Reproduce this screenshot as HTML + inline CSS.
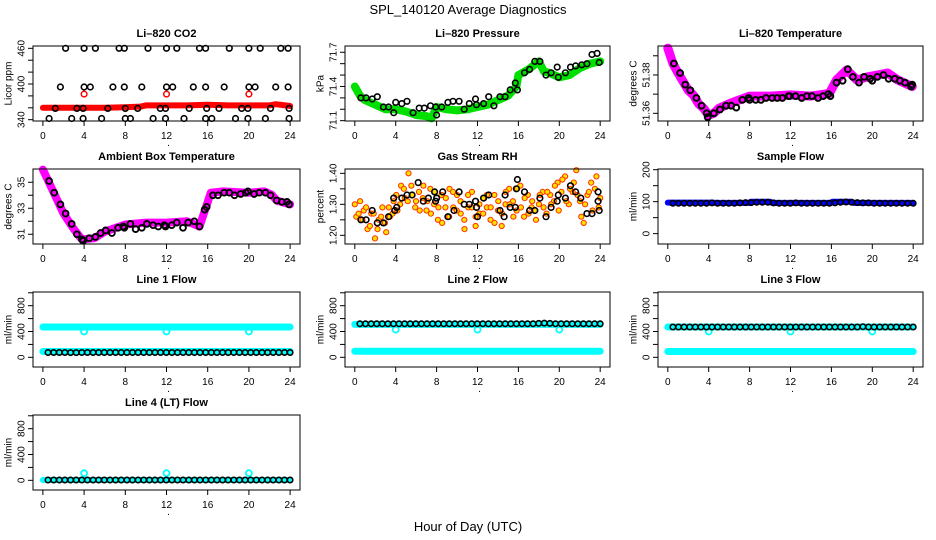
<!DOCTYPE html>
<html><head><meta charset="utf-8"><title>SPL_140120 Average Diagnostics</title>
<style>
html,body{margin:0;padding:0;background:#fff}
svg{display:block;font-family:"Liberation Sans",Arial,sans-serif}
.ttl{font-size:11px;font-weight:bold;text-anchor:middle}
.tk{font-size:10px;text-anchor:middle}
.yl{font-size:10px;text-anchor:middle}
</style></head><body>
<svg id="chart" width="936" height="540" viewBox="0 0 936 540" xmlns="http://www.w3.org/2000/svg">
<rect x="0" y="0" width="936" height="540" fill="#fff"/>
<text x="468" y="14" font-size="13" text-anchor="middle">SPL_140120  Average Diagnostics</text>
<text x="468" y="531" font-size="13" text-anchor="middle">Hour of Day (UTC)</text>
</svg>
<script>
// ---- data ----
const xTicks = [0,4,8,12,16,20,24];
// CO2
const co2BandT = [0,2,4,6,8,9.5,10,12,14,16,18,20,22,22.6,24];
const co2BandV = [360,360,360,360,361,362,364,364,364,365,364,364,364,366,363];
const co2T460 = [2.2,4,5.1,7.4,7.9,10.2,12,13,15.2,15.8,18.1,20,21.1,23.1,23.8];
const co2T395 = [1.7,4,4.6,6.8,7.9,9.6,12,12.6,14.6,15.8,17.6,20,20.6,22.6,23.8];
const co2T360 = [1.2,3.3,3.9,6.3,8,9.2,11.4,11.9,14.2,15.9,17.1,19.3,19.9,22.1,23.9];
const co2T342 = [0.6,2.8,3.9,5.7,8,8.5,10.7,11.9,13.7,15.8,16.4,18.7,19.9,21.6,23.9];
const co2RedT = [4,12,20];
const co2RedV = [383,383,383];
// Pressure
const prT = [0,0.5,1,2,3,4,5,6,7,7.5,8,9,10,11,12,13,14,15,15.8,16,17,18,18.5,19,20,21,22,23,24];
const prV = [71.40,71.32,71.28,71.24,71.20,71.20,71.18,71.15,71.14,71.12,71.22,71.20,71.19,71.20,71.22,71.24,71.28,71.32,71.40,71.50,71.55,71.62,71.53,71.52,71.48,71.50,71.56,71.60,71.62];
const prBT = [0.6,1.1,1.7,2.2,2.8,3.3,3.8,4,4.6,5.1,5.7,6.3,6.8,7.4,7.9,8,8.5,9.1,9.6,10.2,10.7,11.2,11.8,11.9,12.6,13.1,13.6,14.2,14.7,15.2,15.7,15.9,16.6,17.1,17.6,18.1,18.7,19.2,19.8,19.9,20.6,21.1,21.6,22.2,22.7,23.2,23.7,23.9];
const prBV = [71.30,71.30,71.29,71.31,71.22,71.22,71.17,71.26,71.25,71.27,71.17,71.21,71.21,71.23,71.22,71.15,71.22,71.26,71.27,71.27,71.20,71.25,71.29,71.24,71.25,71.31,71.23,71.31,71.31,71.37,71.43,71.37,71.52,71.55,71.62,71.62,71.50,71.52,71.57,71.48,71.52,71.57,71.58,71.59,71.60,71.68,71.69,71.61];
// Li-820 temperature
const ltT = [0,0.5,1,1.5,2,2.5,3,3.5,4,4.5,5,6,7,8,10,12,14,15.8,16.5,17.5,18.5,19.5,20.5,21.5,22.5,23.9];
const ltV = [51.394,51.386,51.381,51.3765,51.372,51.3695,51.365,51.3626,51.359,51.360,51.3626,51.365,51.367,51.369,51.369,51.3696,51.369,51.3704,51.3774,51.3826,51.3774,51.379,51.380,51.381,51.3774,51.374];
const ltBT = [0.6,1.2,1.7,2.2,2.8,3.3,3.8,3.9,4.5,5.1,5.7,6.2,6.7,7.3,7.9,8,8.6,9.1,9.6,10.2,10.7,11.2,11.8,11.9,12.5,13.1,13.6,14.1,14.7,15.2,15.7,15.9,16.5,17.1,17.6,18.1,18.7,19.2,19.8,20,20.5,21.1,21.6,22.2,22.7,23.2,23.8,23.9];
const ltBV = [51.386,51.381,51.375,51.372,51.368,51.364,51.360,51.358,51.360,51.362,51.364,51.364,51.363,51.367,51.368,51.367,51.367,51.367,51.368,51.368,51.368,51.368,51.369,51.369,51.369,51.368,51.369,51.369,51.368,51.369,51.370,51.369,51.376,51.377,51.383,51.379,51.376,51.379,51.378,51.377,51.379,51.380,51.378,51.378,51.377,51.376,51.374,51.375];
// Ambient
const abT = [0,1,2,3,3.8,5,6,8,10,12,14,15.2,15.8,16.3,17.5,20,21.5,22.2,22.7,24];
const abV = [35.97,34.3,32.6,31.4,30.6,30.7,31.2,31.75,31.9,31.9,32.0,31.6,33.0,34.2,34.3,34.2,34.3,34.05,33.6,33.3];
const abBT = [0.6,1.1,1.7,2.2,2.8,3.3,3.8,3.9,4.5,5.1,5.6,6.1,6.7,7.3,7.8,7.9,8.5,9.0,9.6,10.1,10.7,11.2,11.8,11.9,12.5,13,13.6,14.1,14.7,15.2,15.7,15.9,16.5,17,17.6,18.1,18.6,19.2,19.7,19.9,20.5,21,21.6,22.1,22.7,23.2,23.7,23.9];
const abBV = [35.1,34.2,33.3,32.6,31.8,31.0,30.6,30.5,30.7,30.8,31.1,31.3,31.1,31.5,31.6,31.5,31.8,31.4,31.5,31.8,31.7,31.6,31.7,31.6,31.7,31.9,31.5,31.9,32.0,31.6,32.9,33.1,34.0,34.0,34.2,34.2,34.0,34.1,34.2,34.3,34.1,34.2,34.2,34.0,33.6,33.5,33.5,33.3];
// Gas stream RH
const rhCloudV = [1.30,1.27,1.25,1.29,1.23,1.27,1.22,1.26,1.24,1.29,
 1.27,1.33,1.30,1.35,1.31,1.36,1.29,1.34,
 1.32,1.28,1.35,1.30,1.25,1.33,1.29,1.26,
 1.34,1.28,1.31,1.25,1.33,1.29,1.23,1.30,
 1.27,1.33,1.29,1.24,1.31,1.27,1.34,1.30,
 1.26,1.35,1.29,1.32,1.27,1.31,1.25,1.33,
 1.29,1.34,1.30,1.36,1.28,1.38,1.31,1.35,
 1.37,1.33,1.26,1.30,1.34,1.28,1.39,1.32];
const rhCloudV2 = [1.26,1.31,1.28,1.22,1.27,1.19,1.25,1.29,1.21,1.26,
 1.31,1.28,1.36,1.32,1.40,1.33,1.31,1.28,
 1.36,1.31,1.27,1.34,1.29,1.24,1.32,1.35,
 1.29,1.33,1.27,1.22,1.29,1.34,1.26,1.27,
 1.32,1.29,1.25,1.33,1.28,1.23,1.30,1.35,
 1.31,1.28,1.36,1.26,1.33,1.29,1.28,1.30,
 1.34,1.27,1.33,1.31,1.37,1.34,1.39,1.30,
 1.34,1.41,1.31,1.24,1.33,1.37,1.35,1.29];
const rhBT = [0.6,1.1,1.7,2.2,2.8,3.3,3.8,3.9,4.1,4.6,5.1,5.6,6.2,6.7,7.2,7.8,7.9,8,8.6,9.1,9.7,10.2,10.7,11.2,11.8,11.9,12,12.6,13.1,14.2,14.6,14.7,15.2,15.7,15.8,15.9,16.6,17.1,17.6,18.1,18.7,19.2,19.8,19.9,20.6,21.1,21.6,22.1,22.7,23.2,23.8,23.8,23.9];
const rhBV = [1.25,1.25,1.28,1.24,1.24,1.26,1.32,1.28,1.29,1.32,1.33,1.33,1.37,1.31,1.32,1.34,1.31,1.32,1.34,1.26,1.28,1.34,1.30,1.30,1.31,1.29,1.26,1.32,1.33,1.28,1.26,1.33,1.29,1.29,1.35,1.38,1.34,1.28,1.28,1.32,1.26,1.29,1.31,1.33,1.32,1.36,1.34,1.32,1.27,1.27,1.34,1.31,1.28];
// Sample flow
const sfT = [0,4,5,8,8.1,10,10.2,12,16,16.1,18,18.2,24];
const sfV = [97,97,96,96,100,100,96,96,96,100,100,96,96];
const sfBlack = [95,95,95,95,95,95,95,96,95,95,95,95,96,97,97,98,98,98,96,95,95,95,96,95,95,95,95,95,95,96,98,99,98,97,96,96,95,95,95,95,95,95,95,95];
// Line flows
const bandT = [0,24];
const l1HighV = [470,470];
const l1LowV = [90,90];
const l1Black = [75,75,74,74,73,73,74,75,75,75,75,75,75,75,75,75,75,75,75,75,75,75,75,75,75,75,75,75,75,75,75,75,75,75,75,75,75,75,75,75,75,75,75,75];
const dipT = [4,12,20];
const l1DipV = [400,400,400];
const l2HighV = [510,510];
const l2LowV = [95,95];
const l2Black = [520,520,520,520,520,520,520,520,520,520,520,520,520,520,520,520,520,520,520,520,520,520,520,520,520,520,520,520,520,520,520,520,525,530,525,520,520,520,520,520,520,520,520,520];
const l2DipV = [430,430,430];
const l3HighV = [470,470];
const l3LowV = [90,90];
const l3Black = [470,470,470,470,470,470,470,470,470,470,470,470,470,470,470,470,470,470,470,470,470,470,470,470,470,470,470,470,470,470,470,470,470,470,475,470,470,470,470,470,470,470,470,470];
const l3DipV = [400,400,400];
const l4HighV = [5,5];
const l4Black = [5,5,5,5,5,5,5,5,5,5,5,5,5,5,5,5,5,5,5,5,5,5,5,5,5,5,5,5,5,5,5,5,5,5,5,5,5,5,5,5,5,5,5,5];
const l4BumpV = [110,110,110];

// ---- layout ----
const cols = [{l:33,r:300},{l:345,r:610},{l:658,r:923}];
const NS = 'http://www.w3.org/2000/svg';
const svg = document.getElementById('chart');
function mk(tag, attrs, parent){const e=document.createElementNS(NS,tag);for(const k in attrs)e.setAttribute(k,attrs[k]);(parent||svg).appendChild(e);return e;}

function makePanel(cfg){
  const c = cols[cfg.col];
  const top = 46 + 123*cfg.row, bot = 121 + 123*cfg.row;
  const g = mk('g',{});
  
  
  const x = t => c.l + (t + 0.96) / 25.92 * (c.r - c.l);
  const y = v => bot - (v - cfg.dom[0]) / (cfg.dom[1]-cfg.dom[0]) * (bot - top);
  const p = {g, x, y, top, bot, c};
  const marks = mk('g',{},g);
  
  
  p.marks = marks;
  const box = mk('rect',{x:c.l,y:top,width:c.r-c.l,height:bot-top,fill:'none',stroke:'#000','stroke-width':1},g);
  
  
  const tt = mk('text',{x:(c.l+c.r)/2,y:top-9,class:'ttl'},g);
  tt.textContent = cfg.title;
  
  
  const xa = mk('g',{},g);
  
  
  xTicks.forEach(t=>{
    mk('line',{x1:x(t),x2:x(t),y1:bot,y2:bot+5,stroke:'#000'},xa);
    const lt = mk('text',{x:x(t),y:bot+18,class:'tk'},xa);
    lt.textContent = t;
    
    
  });
  const dot = mk('text',{x:x(12)+2,y:bot+25,class:'tk','font-size':8},xa);
  dot.textContent='.';
  const ya = mk('g',{},g);
  
  
  cfg.ticks.forEach(v=>{
    mk('line',{x1:c.l-5,x2:c.l,y1:y(v),y2:y(v),stroke:'#000'},ya);
  });
  cfg.labels.forEach((v,i)=>{
    const lx = c.l-12, ly = y(v);
    const lt = mk('text',{x:lx,y:ly,class:'tk',transform:`rotate(-90 ${lx} ${ly})`,dy:3.5},ya);
    lt.textContent = cfg.labelText ? cfg.labelText[i] : v;
    
    
  });
  const yx = c.l-25, yy=(top+bot)/2;
  const yl = mk('text',{x:yx,y:yy,class:'yl',transform:`rotate(-90 ${yx} ${yy})`,dy:3.5},ya);
  yl.textContent = cfg.ylab;
  
  
  return p;
}
function band(p, ts, vs, color, w, name){
  const pts = ts.map((t,i)=>p.x(t).toFixed(1)+','+p.y(vs[i]).toFixed(1)).join(' ');
  const e = mk('polyline',{points:pts,fill:'none',stroke:color,'stroke-width':w,'stroke-linejoin':'round','stroke-linecap':'round'},p.marks);
  
  
}
function circles(p, ts, vs, color, r, sw, fill, name){
  ts.forEach((t,i)=>{
    const e = mk('circle',{cx:p.x(t).toFixed(1),cy:p.y(vs[i]).toFixed(1),r:r,fill:fill||'none',stroke:color,'stroke-width':sw},p.marks);
    
    
  });
}
function evenTimes(n,t0,t1){const a=[];for(let i=0;i<n;i++)a.push(t0+(t1-t0)*i/(n-1));return a;}
function constArr(ts,v){return ts.map(()=>v);}

let p = makePanel({name:'co2-panel',col:0,row:0,title:'Li\u2013820 CO2',ylab:'Licor ppm',dom:[337.8,463.9],ticks:[340,360,380,400,420,440,460],labels:[340,400,460]});
band(p, co2BandT, co2BandV, '#ff0000', 6, 'co2-red-band');
circles(p, co2RedT, co2RedV, '#ff0000', 2.8, 1.5, null, 'co2-red-point');
circles(p, co2T460, constArr(co2T460,460), '#000', 2.8, 1.6, null, 'co2-black-point');
circles(p, co2T395, constArr(co2T395,395), '#000', 2.8, 1.6, null, 'co2-black-point');
circles(p, co2T360, constArr(co2T360,359), '#000', 2.8, 1.6, null, 'co2-black-point');
circles(p, co2T342, constArr(co2T342,342), '#000', 2.8, 1.6, null, 'co2-black-point');

p = makePanel({name:'pressure-panel',col:1,row:0,title:'Li\u2013820 Pressure',ylab:'kPa',dom:[71.097,71.755],ticks:[71.1,71.2,71.3,71.4,71.5,71.6,71.7],labels:[71.1,71.4,71.7],labelText:['71.1','71.4','71.7']});
band(p, prT, prV, '#00e000', 8, 'pressure-green-band');
circles(p, prBT, prBV, '#000', 2.8, 1.6, null, 'pressure-black-point');

p = makePanel({name:'licor-temperature-panel',col:2,row:0,title:'Li\u2013820 Temperature',ylab:'degrees C',dom:[51.356,51.3951],ticks:[51.36,51.37,51.38,51.39],labels:[51.36,51.38],labelText:['51.36','51.38']});
band(p, ltT, ltV, '#ff00ff', 9, 'licor-temperature-magenta-band');
circles(p, ltBT, ltBV, '#000', 2.9, 2, null, 'licor-temperature-black-point');

p = makePanel({name:'ambient-temperature-panel',col:0,row:1,title:'Ambient Box Temperature',ylab:'degrees C',dom:[30.25,36.02],ticks:[31,32,33,34,35],labels:[31,33,35]});
band(p, abT, abV, '#ff00ff', 8, 'ambient-magenta-band');
circles(p, abBT, abBV, '#000', 2.9, 1.9, null, 'ambient-black-point');

p = makePanel({name:'gas-rh-panel',col:1,row:1,title:'Gas Stream RH',ylab:'percent',dom:[1.172,1.414],ticks:[1.20,1.25,1.30,1.35,1.40],labels:[1.20,1.30,1.40],labelText:['1.20','1.30','1.40']});
const rhT = evenTimes(rhCloudV.length, 0, 24);
const rhT2 = evenTimes(rhCloudV2.length, 0.15, 23.85);
circles(p, rhT2, rhCloudV2, '#ff3000', 2.6, 1, '#ffe000', 'rh-cloud-point');
circles(p, rhT, rhCloudV, '#ff3000', 2.6, 1, '#ffe000', 'rh-cloud-point');
circles(p, rhBT, rhBV, '#000', 2.8, 1.6, null, 'rh-black-point');

p = makePanel({name:'sample-flow-panel',col:2,row:1,title:'Sample Flow',ylab:'ml/min',dom:[-32.5,202.2],ticks:[0,50,100,150,200],labels:[0,100,200]});
band(p, sfT, sfV, '#0000ff', 6, 'sample-flow-blue-band');
circles(p, evenTimes(sfBlack.length,0.5,24), sfBlack, '#000', 2.7, 1.6, null, 'sample-flow-black-point');

const flowTicks=[0,200,400,600,800,1000], flowLabels=[0,400,800], flowDom=[-150,1012];
p = makePanel({name:'line1-flow-panel',col:0,row:2,title:'Line 1 Flow',ylab:'ml/min',dom:flowDom,ticks:flowTicks,labels:flowLabels});
band(p, bandT, l1HighV, '#00ffff', 7, 'line1-cyan-high-band');
band(p, bandT, l1LowV, '#00ffff', 7, 'line1-cyan-low-band');
circles(p, dipT, l1DipV, '#00ffff', 3, 1.8, null, 'line1-cyan-dip');
circles(p, evenTimes(l1Black.length,0.5,24), l1Black, '#000', 2.7, 1.6, null, 'line1-black-point');
p = makePanel({name:'line2-flow-panel',col:1,row:2,title:'Line 2 Flow',ylab:'ml/min',dom:flowDom,ticks:flowTicks,labels:flowLabels});
band(p, bandT, l2HighV, '#00ffff', 7, 'line2-cyan-high-band');
band(p, bandT, l2LowV, '#00ffff', 7, 'line2-cyan-low-band');
circles(p, dipT, l2DipV, '#00ffff', 3, 1.8, null, 'line2-cyan-dip');
circles(p, evenTimes(l2Black.length,0.5,24), l2Black, '#000', 2.7, 1.6, null, 'line2-black-point');
p = makePanel({name:'line3-flow-panel',col:2,row:2,title:'Line 3 Flow',ylab:'ml/min',dom:flowDom,ticks:flowTicks,labels:flowLabels});
band(p, bandT, l3HighV, '#00ffff', 7, 'line3-cyan-high-band');
band(p, bandT, l3LowV, '#00ffff', 7, 'line3-cyan-low-band');
circles(p, dipT, l3DipV, '#00ffff', 3, 1.8, null, 'line3-cyan-dip');
circles(p, evenTimes(l3Black.length,0.5,24), l3Black, '#000', 2.7, 1.6, null, 'line3-black-point');
p = makePanel({name:'line4-flow-panel',col:0,row:3,title:'Line 4 (LT) Flow',ylab:'ml/min',dom:flowDom,ticks:flowTicks,labels:flowLabels});
band(p, bandT, l4HighV, '#00ffff', 6, 'line4-cyan-band');
circles(p, dipT, l4BumpV, '#00ffff', 3, 1.8, null, 'line4-cyan-bump');
circles(p, evenTimes(l4Black.length,0.5,24), l4Black, '#000', 2.7, 1.6, null, 'line4-black-point');
</script>
</body></html>
